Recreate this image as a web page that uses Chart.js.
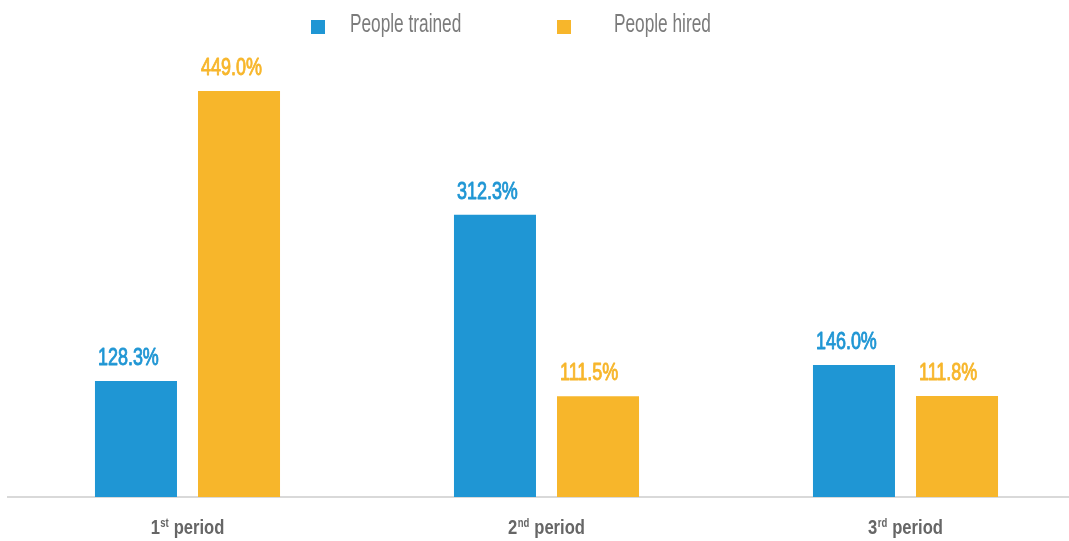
<!DOCTYPE html>
<html>
<head>
<meta charset="utf-8">
<script src="https://cdn.jsdelivr.net/npm/chart.js@4/dist/chart.umd.min.js"></script>
<style>
  html, body { margin: 0; padding: 0; background: #ffffff; overflow: hidden; width: 1069px; height: 541px; }
  #wrap { position: relative; width: 1069px; height: 541px; overflow: hidden; }
  canvas { position: absolute; left: 0; top: 0; }
  .lg-box { position: absolute; width: 14px; height: 14px; top: 20px; }
  .lg-txt { position: absolute; top: 11px; font-family: "Liberation Sans", Arial, sans-serif;
            font-size: 25px; line-height: 25px; color: #7b7b7b; white-space: nowrap;
            transform: scaleX(0.69); transform-origin: left top; }
</style>
</head>
<body>
<div id="wrap">
  <canvas id="c" width="1085" height="541"></canvas>
  <div id="legend"></div>
</div>
<script>
// ---- data ----
const categories = ["1st period", "2nd period", "3rd period"];
const seriesNames = ["People trained", "People hired"];
const peopleTrained = [128.3, 312.3, 146.0];
const peopleHired = [449.0, 111.5, 111.8];
const seriesColors = ["#1f96d4", "#f7b62b"];

const FONT = '"Liberation Sans", Arial, sans-serif';

// ---- HTML legend (real text) ----
const legendPos = [{box: 311, txt: 350}, {box: 557, txt: 614}];
const legendEl = document.getElementById('legend');
seriesNames.forEach((name, i) => {
  const b = document.createElement('div');
  b.className = 'lg-box';
  b.style.left = legendPos[i].box + 'px';
  b.style.background = seriesColors[i];
  legendEl.appendChild(b);
  const t = document.createElement('div');
  t.className = 'lg-txt';
  t.style.left = legendPos[i].txt + 'px';
  t.textContent = name;
  legendEl.appendChild(t);
});

// value labels above bars (condensed look via horizontal scale)
const valueLabels = {
  id: 'valueLabels',
  afterDatasetsDraw(chart) {
    const ctx = chart.ctx;
    chart.data.datasets.forEach((ds, di) => {
      const meta = chart.getDatasetMeta(di);
      meta.data.forEach((bar, i) => {
        const left = bar.x - bar.width / 2 + 3;
        const txt = ds.data[i].toFixed(1) + '%';
        ctx.save();
        ctx.translate(left, bar.y - 16);
        ctx.scale(0.78, 1);
        ctx.font = '23px ' + FONT;
        ctx.textAlign = 'left';
        ctx.textBaseline = 'alphabetic';
        ctx.fillStyle = ds.backgroundColor;
        ctx.strokeStyle = ds.backgroundColor;
        ctx.lineWidth = 0.9;
        ctx.lineJoin = 'round';
        ctx.fillText(txt, 0, 0);
        ctx.strokeText(txt, 0, 0);
        ctx.restore();
      });
    });
  }
};

// category labels with superscript ordinal suffix, positioned by the x scale
const categoryLabels = {
  id: 'categoryLabels',
  afterDraw(chart) {
    const ctx = chart.ctx;
    const xs = chart.scales.x;
    const baseY = chart.chartArea.bottom + 37;
    chart.data.labels.forEach((lab, i) => {
      const m = /^(\d+)(st|nd|rd|th)(.*)$/.exec(lab) || [lab, lab, '', ''];
      const cx = xs.getPixelForTick(i);
      ctx.save();
      ctx.translate(cx, baseY);
      ctx.scale(0.79, 1);
      ctx.fillStyle = '#666666';
      ctx.textBaseline = 'alphabetic';
      ctx.textAlign = 'left';
      const mainFont = 'bold 21px ' + FONT;
      const supFont = 'bold 12px ' + FONT;
      ctx.font = mainFont;
      const w1 = ctx.measureText(m[1]).width;
      const w3 = ctx.measureText(m[3]).width;
      ctx.font = supFont;
      const w2 = ctx.measureText(m[2]).width + 1;
      let x = -(w1 + w2 + w3) / 2;
      ctx.font = mainFont;
      ctx.fillText(m[1], x, 0); x += w1;
      ctx.font = supFont;
      ctx.fillText(m[2], x + 0.5, -7); x += w2;
      ctx.font = mainFont;
      ctx.fillText(m[3], x, 0);
      ctx.restore();
    });
  }
};

function build() {
  new Chart(document.getElementById('c'), {
    type: 'bar',
    data: {
      labels: categories,
      datasets: [
        { label: seriesNames[0], data: peopleTrained, backgroundColor: seriesColors[0],
          categoryPercentage: 0.574, barPercentage: 0.796 },
        { label: seriesNames[1], data: peopleHired, backgroundColor: seriesColors[1],
          categoryPercentage: 0.574, barPercentage: 0.796 }
      ]
    },
    options: {
      responsive: false,
      animation: false,
      devicePixelRatio: 1,
      layout: { padding: { left: 8, right: 0, top: 45, bottom: 0 } },
      plugins: { legend: { display: false }, tooltip: { enabled: false } },
      scales: {
        x: {
          grid: { display: false, drawTicks: false },
          border: { display: true, color: '#d9d9d9', width: 2 },
          ticks: { display: false },
          afterFit(scale) { scale.height = 44; }
        },
        y: { display: false, min: 0, max: 500 }
      }
    },
    plugins: [valueLabels, categoryLabels]
  });
}

Promise.all([
  document.fonts.load('23px "Liberation Sans"'),
  document.fonts.load('bold 21px "Liberation Sans"')
]).catch(() => {}).then(build);
</script>
</body>
</html>
